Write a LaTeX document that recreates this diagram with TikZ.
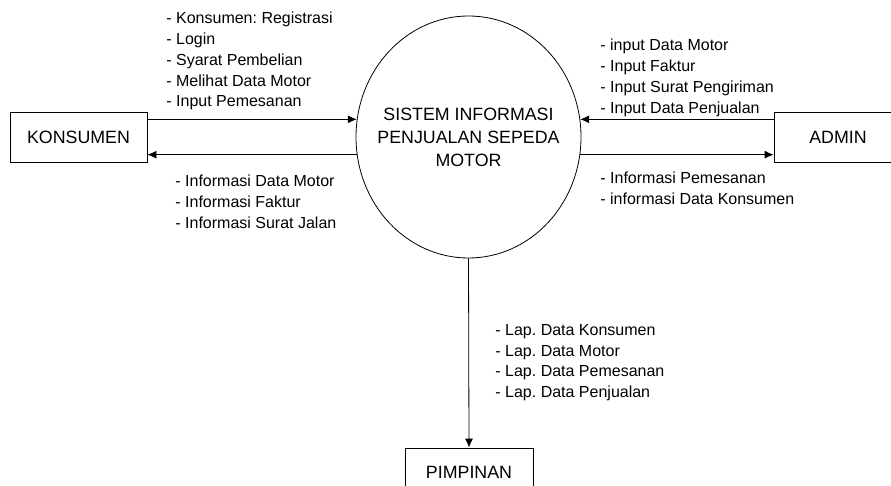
\documentclass[tikz,border=0pt]{standalone}
\usepackage{fontspec}
\setmainfont{Liberation Sans}
\frenchspacing
\usetikzlibrary{shapes.geometric,arrows.meta}
\tikzset{
  entitas/.style={draw, minimum height=50pt, inner sep=0pt, font=\fontsize{17.8}{23}\selectfont},
  daftar/.style={align=left, anchor=north west, inner sep=0pt, font=\fontsize{16}{20.7}\selectfont}
}
\begin{document}
\begin{tikzpicture}[x=1pt, y=-1pt, >={Latex[length=9pt,width=8pt]}, line width=0.8pt]
\useasboundingbox (0,0) rectangle (891,486);
\node[entitas, minimum width=137pt] (konsumen) at (78.5,137) {KONSUMEN};
\node[entitas, minimum width=128pt] (admin) at (838,137) {ADMIN};
\node[entitas, minimum width=128pt, minimum height=48pt] (pimpinan) at (469,472) {PIMPINAN};
\node[draw, ellipse, minimum width=225pt, minimum height=242pt, inner xsep=-15pt, inner ysep=0pt, align=center, font=\fontsize{17.8}{23}\selectfont] (sistem) at (468.5,137) {SISTEM INFORMASI\\PENJUALAN SEPEDA\\MOTOR};
\draw[->] (konsumen.east |- sistem.171) -- (sistem.171);
\draw[->] (sistem.189) -- (konsumen.east |- sistem.189);
\draw[->] (admin.west |- sistem.9) -- (sistem.9);
\draw[->] (sistem.351) -- (admin.west |- sistem.351);
\draw[->] (sistem.south) -- (pimpinan.north);
\node[daftar] (lblkonsumenmasuk) at (166,12) {- Konsumen: Registrasi\\- Login\\- Syarat Pembelian\\- Melihat Data Motor\\- Input Pemesanan};
\node[daftar] (lblkonsumenkeluar) at (175,175) {- Informasi Data Motor\\- Informasi Faktur\\- Informasi Surat Jalan};
\node[daftar] (lbladminmasuk) at (600,39) {- input Data Motor\\- Input Faktur\\- Input Surat Pengiriman\\- Input Data Penjualan};
\node[daftar] (lbladminkeluar) at (600,172) {- Informasi Pemesanan\\- informasi Data Konsumen};
\node[daftar] (lblpimpinan) at (495,324) {- Lap. Data Konsumen\\- Lap. Data Motor\\- Lap. Data Pemesanan\\- Lap. Data Penjualan};
\end{tikzpicture}
\end{document}
